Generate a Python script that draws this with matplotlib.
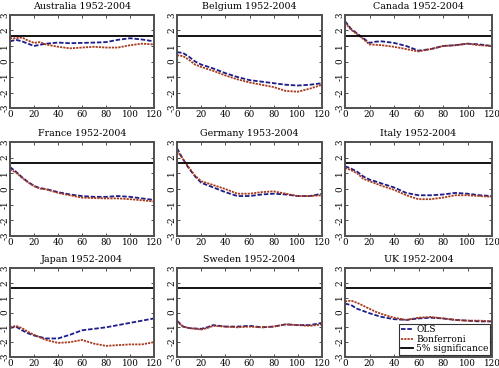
import matplotlib
matplotlib.use("Agg")
import matplotlib.pyplot as plt
import numpy as np

lags = [0, 5, 10, 15, 20, 25, 30, 40, 50, 60, 70, 80, 90, 100, 110, 120]

titles = ["Australia 1952-2004", "Belgium 1952-2004", "Canada 1952-2004",
          "France 1952-2004", "Germany 1953-2004", "Italy 1952-2004",
          "Japan 1952-2004", "Sweden 1952-2004", "UK 1952-2004"]

ols_australia = [1.3, 1.4, 1.3, 1.15, 1.0, 1.08, 1.15, 1.22, 1.18, 1.2, 1.22, 1.25, 1.4, 1.5, 1.42, 1.3]
bon_australia = [1.5, 1.5, 1.55, 1.35, 1.2, 1.25, 1.1, 0.95, 0.85, 0.9, 0.95, 0.9, 0.9, 1.05, 1.15, 1.1]

ols_belgium = [0.6, 0.55, 0.3, 0.0, -0.2, -0.32, -0.45, -0.75, -1.0, -1.2, -1.3, -1.4, -1.5, -1.55, -1.5, -1.4]
bon_belgium = [0.4, 0.35, 0.1, -0.2, -0.35, -0.48, -0.6, -0.9, -1.15, -1.35, -1.5, -1.65, -1.9, -1.95, -1.75, -1.5]

ols_canada = [2.6, 2.1, 1.8, 1.5, 1.2, 1.28, 1.3, 1.2, 1.0, 0.7, 0.8, 1.0, 1.05, 1.15, 1.1, 1.0]
bon_canada = [2.5, 2.05, 1.75, 1.45, 1.1, 1.08, 1.05, 0.95, 0.8, 0.65, 0.8, 1.0, 1.05, 1.15, 1.05, 1.0]

ols_france = [1.4, 1.1, 0.75, 0.45, 0.2, 0.05, 0.0, -0.2, -0.35, -0.45, -0.5, -0.5, -0.45, -0.5, -0.6, -0.7]
bon_france = [1.25, 1.05, 0.72, 0.42, 0.18, 0.03, -0.02, -0.25, -0.4, -0.55, -0.58, -0.6, -0.6, -0.65, -0.72, -0.8]

ols_germany = [2.6, 1.9, 1.3, 0.8, 0.4, 0.25, 0.1, -0.2, -0.45, -0.45, -0.35, -0.3, -0.35, -0.45, -0.45, -0.3]
bon_germany = [2.45, 1.9, 1.35, 0.85, 0.5, 0.38, 0.25, 0.0, -0.3, -0.3, -0.2, -0.15, -0.3, -0.45, -0.45, -0.4]

ols_italy = [1.45, 1.3, 1.1, 0.8, 0.6, 0.48, 0.35, 0.1, -0.25, -0.4, -0.4, -0.35, -0.25, -0.3, -0.4, -0.45]
bon_italy = [1.35, 1.2, 1.0, 0.65, 0.5, 0.35, 0.2, -0.05, -0.4, -0.65, -0.65, -0.55, -0.4, -0.4, -0.45, -0.5]

ols_japan = [-1.05, -0.95, -1.2, -1.4, -1.55, -1.65, -1.75, -1.75, -1.5, -1.2, -1.1, -1.0, -0.85, -0.7, -0.55, -0.4]
bon_japan = [-1.0, -0.9, -1.05, -1.3, -1.5, -1.68, -1.85, -2.05, -2.0, -1.85, -2.1, -2.25, -2.2, -2.15, -2.15, -2.0]

ols_sweden = [-0.55, -0.95, -1.05, -1.08, -1.1, -1.0, -0.85, -0.95, -0.95, -0.9, -1.0, -0.95, -0.8, -0.85, -0.85, -0.7]
bon_sweden = [-0.6, -0.95, -1.05, -1.1, -1.15, -1.05, -0.9, -0.95, -1.0, -0.95, -1.0, -0.95, -0.8, -0.85, -0.9, -0.8]

ols_uk = [0.6, 0.5, 0.25, 0.1, -0.05, -0.18, -0.3, -0.45, -0.5, -0.4, -0.35, -0.4, -0.5, -0.55, -0.6, -0.6]
bon_uk = [0.75, 0.8, 0.65, 0.45, 0.25, 0.05, -0.1, -0.35, -0.5, -0.35, -0.3, -0.4, -0.5, -0.55, -0.55, -0.6]

ols_all = [ols_australia, ols_belgium, ols_canada, ols_france, ols_germany,
           ols_italy, ols_japan, ols_sweden, ols_uk]
bon_all = [bon_australia, bon_belgium, bon_canada, bon_france, bon_germany,
           bon_italy, bon_japan, bon_sweden, bon_uk]

crit = 1.645

W, H = 499, 368
fig = plt.figure(figsize=(W / 100, H / 100), dpi=100)
plt.rcParams['font.family'] = ['DejaVu Serif']
plt.rcParams['axes.unicode_minus'] = False

col_x = [(10, 154), (177, 322), (345, 492)]
row_y = [(15, 108), (142, 236), (268, 357)]

blue = '#1c1c8a'
red = '#a83a1c'
frame = '#505050'

for i in range(9):
    r, c = divmod(i, 3)
    x0, x1 = col_x[c]
    y0, y1 = row_y[r]
    ax = fig.add_axes([x0 / W, 1 - y1 / H, (x1 - x0) / W, (y1 - y0) / H])
    l_ols, = ax.plot(lags, ols_all[i], color=blue, lw=1.3, ls=(0, (2.5, 1)), label='OLS')
    l_bon, = ax.plot(lags, bon_all[i], color=red, lw=1.3, ls=(0, (1.2, 0.6)), label='Bonferroni')
    l_crit = ax.axhline(crit, color='black', lw=1.3, label='5% significance')
    ax.set_xlim(0, 120)
    ax.set_ylim(-3, 3)
    ax.set_xticks(range(0, 121, 20))
    ax.set_yticks(range(-3, 4))
    ax.tick_params(direction='in', length=2.5, width=0.6, top=True, right=True,
                   labelsize=6.3, color='#303030')
    ax.tick_params(axis='x', pad=1.5)
    ax.tick_params(axis='y', pad=0.5)
    for lab in ax.get_yticklabels():
        lab.set_rotation(90)
        lab.set_va('center')
    for s in ax.spines.values():
        s.set_color(frame)
        s.set_linewidth(1.4)
    ax.set_title(titles[i], fontsize=6.8, pad=4)
    if i == 8:
        leg = ax.legend(handles=[l_ols, l_bon, l_crit], loc='lower right',
                        fontsize=6.5, frameon=True, fancybox=False,
                        edgecolor='black', borderpad=0.2, labelspacing=0.05,
                        handlelength=1.4, handletextpad=0.3,
                        borderaxespad=0.2)
        leg.get_frame().set_linewidth(0.8)

fig.savefig('out.png', dpi=100)
